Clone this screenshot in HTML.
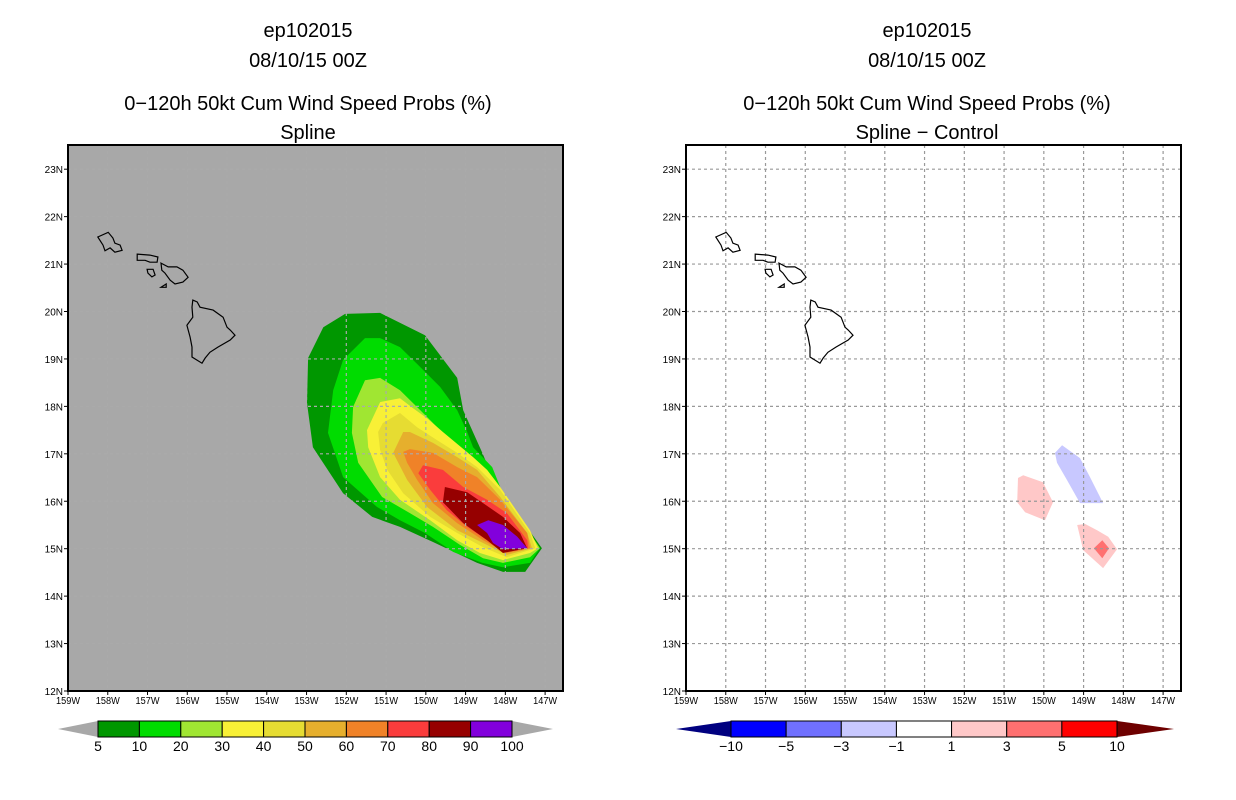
<!DOCTYPE html>
<html><head><meta charset="utf-8"><style>
html,body{margin:0;padding:0;background:#fff;}
svg{display:block;font-family:"Liberation Sans",sans-serif;}
</style></head><body>
<svg id="fig" width="1236" height="800" viewBox="0 0 1236 800" xmlns="http://www.w3.org/2000/svg">
<g font-size="20" text-anchor="middle" fill="#000">
<text x="308" y="37">ep102015</text>
<text x="308" y="67">08/10/15 00Z</text>
<text x="308" y="110">0−120h 50kt Cum Wind Speed Probs (%)</text>
<text x="308" y="139">Spline</text>
</g>
<g font-size="20" text-anchor="middle" fill="#000">
<text x="927" y="37">ep102015</text>
<text x="927" y="67">08/10/15 00Z</text>
<text x="927" y="110">0−120h 50kt Cum Wind Speed Probs (%)</text>
<text x="927" y="139">Spline − Control</text>
</g>
<g id="leftPanel"></g>
<g id="rightPanel"></g>
<g id="leftBar"></g>
<g id="rightBar"></g>
</svg>
<script>
const lonTicks = [-159,-158,-157,-156,-155,-154,-153,-152,-151,-150,-149,-148,-147];
const latTicks = [12,13,14,15,16,17,18,19,20,21,22,23];
const probLevels = [5,10,20,30,40,50,60,70,80,90];
const probColors = ["#009700","#00DC00","#A0E632","#F8F036","#E6DC32","#E6AF2D","#F08228","#FA3C3C","#960000","#8200DC"];
const probLabels = ["5","10","20","30","40","50","60","70","80","90","100"];
const diffColors = ["#0000FF","#7070FF","#C8C8FF","#FFFFFF","#FFC8C8","#FF7070","#FF0000"];
const diffLabels = ["−10","−5","−3","−1","1","3","5","10"];
// filled contour polygons (lon, lat)
const prob5 = [[-152.03,19.95],[-151.15,19.97],[-150.02,19.5],[-149.21,18.6],[-149.06,17.92],[-148.58,17.02],[-148.08,16.03],[-147.58,15.6],[-147.08,15.01],[-147.5,14.51],[-148.06,14.51],[-148.71,14.7],[-149.82,15.14],[-150.65,15.46],[-151.35,15.67],[-152.08,16.17],[-152.84,17.14],[-152.99,18.07],[-152.96,19.02],[-152.58,19.67]];
const prob10 = [[-151.53,19.44],[-151.15,19.44],[-150.65,19.25],[-150.19,18.87],[-149.64,18.41],[-149.21,17.92],[-148.96,17.46],[-148.81,17.14],[-148.33,16.72],[-148.13,16.3],[-148.01,15.96],[-147.38,15.33],[-147.13,15.01],[-147.38,14.7],[-148.06,14.61],[-148.58,14.7],[-149.31,14.93],[-150.02,15.33],[-150.65,15.6],[-151.23,15.88],[-152.08,16.51],[-152.46,17.44],[-152.33,18.34],[-152.08,18.98]];
const prob20 = [[-151.53,18.55],[-151.15,18.6],[-150.65,18.34],[-150.14,17.92],[-149.64,17.5],[-149.21,17.14],[-148.76,16.81],[-148.46,16.59],[-148.06,16.03],[-147.38,15.33],[-147.13,15.01],[-147.38,14.82],[-148.06,14.7],[-148.56,14.8],[-149.14,15.08],[-149.82,15.46],[-150.4,15.75],[-151.1,16.09],[-151.7,16.81],[-151.86,17.44],[-151.83,17.99]];
const prob30 = [[-151.15,18.09],[-150.65,18.17],[-150.32,17.96],[-149.97,17.75],[-149.57,17.46],[-148.81,16.93],[-148.46,16.66],[-148.13,16.3],[-147.38,15.39],[-147.18,15.01],[-147.38,14.91],[-148.06,14.76],[-148.64,14.91],[-149.21,15.18],[-149.89,15.6],[-150.65,16.03],[-151.15,16.51],[-151.45,17.14],[-151.48,17.5]];
const prob40 = [[-151.2,17.46],[-151.08,17.65],[-150.65,17.86],[-150.22,17.56],[-149.72,17.29],[-149.21,17.02],[-148.71,16.72],[-148.13,16.24],[-147.38,15.33],[-147.25,15.01],[-147.96,14.82],[-148.56,15.03],[-149.21,15.33],[-149.89,15.67],[-150.57,16.17],[-150.97,16.66],[-151.15,17.08]];
const prob50 = [[-150.82,17.02],[-150.57,17.46],[-150.4,17.46],[-149.82,17.23],[-149.21,16.93],[-148.71,16.66],[-148.13,16.09],[-147.45,15.33],[-147.33,15.01],[-147.96,14.87],[-148.56,15.12],[-149.21,15.39],[-149.97,15.88],[-150.47,16.45]];
const prob60 = [[-150.57,17.04],[-150.4,17.1],[-149.82,17.02],[-149.21,16.72],[-148.71,16.51],[-148.13,16.03],[-147.45,15.33],[-147.38,15.01],[-147.96,14.91],[-148.56,15.18],[-149.21,15.54],[-149.82,15.96],[-150.22,16.45],[-150.47,16.81]];
const prob70 = [[-150.19,16.59],[-150.07,16.76],[-149.57,16.66],[-149.06,16.3],[-148.46,16.03],[-147.96,15.75],[-147.45,15.18],[-147.43,15.01],[-147.96,14.93],[-148.46,15.18],[-148.96,15.46],[-149.47,15.81],[-149.89,16.24]];
const prob80 = [[-149.52,16.3],[-148.96,16.19],[-148.56,15.96],[-148.06,15.67],[-147.63,15.33],[-147.45,15.01],[-148.06,14.91],[-148.46,15.18],[-148.81,15.39],[-149.06,15.54],[-149.57,15.98]];
const prob90 = [[-148.71,15.5],[-148.43,15.6],[-148.06,15.5],[-147.7,15.25],[-147.45,15.01],[-148.06,14.99],[-148.31,15.12],[-148.46,15.33]];
const probPolys = [prob5,prob10,prob20,prob30,prob40,prob50,prob60,prob70,prob80,prob90];
const diffNeg3 = [[-149.72,17.02],[-149.54,17.18],[-149.09,16.91],[-148.84,16.51],[-148.51,15.96],[-149.09,15.96],[-149.42,16.45],[-149.67,16.81]];
const diffPos1a = [[-150.65,16.49],[-150.52,16.55],[-150.02,16.4],[-149.77,15.98],[-149.97,15.6],[-150.47,15.77],[-150.67,15.98]];
const diffPos1b = [[-149.16,15.5],[-148.96,15.52],[-148.66,15.39],[-148.38,15.25],[-148.16,14.99],[-148.51,14.59],[-149.01,14.97],[-149.09,15.25]];
const diffPos3 = [[-148.53,15.18],[-148.36,15.01],[-148.53,14.8],[-148.74,15.01]];
const diffPolys = [diffNeg3,diffPos1a,diffPos1b,diffPos3];
const diffPolyColors = ["#C8C8FF","#FFC8C8","#FFC8C8","#FF7070"];
// island coastlines (lon, lat)
const kauai = [[-158.25,21.57],[-157.99,21.67],[-157.87,21.55],[-157.82,21.44],[-157.69,21.4],[-157.64,21.29],[-157.82,21.25],[-157.94,21.34],[-158.07,21.28],[-158.12,21.4]];
const oahu = [[-157.26,21.21],[-156.94,21.19],[-156.74,21.15],[-156.76,21.04],[-156.94,21.04],[-157.06,21.08],[-157.26,21.08]];
const lanai = [[-157.01,20.89],[-156.86,20.89],[-156.81,20.77],[-156.89,20.73],[-156.99,20.81]];
const maui = [[-156.66,21.02],[-156.48,20.94],[-156.26,20.94],[-156.11,20.87],[-155.98,20.72],[-156.11,20.62],[-156.31,20.58],[-156.43,20.66],[-156.56,20.81],[-156.64,20.87]];
const kahoolawe = [[-156.66,20.51],[-156.53,20.58],[-156.53,20.51]];
const bigIsland = [[-155.86,20.24],[-155.75,20.2],[-155.68,20.09],[-155.35,20.03],[-155.1,19.88],[-155.0,19.67],[-154.92,19.61],[-154.8,19.5],[-154.92,19.4],[-155.23,19.25],[-155.43,19.14],[-155.55,19.02],[-155.63,18.91],[-155.88,19.04],[-155.88,19.25],[-155.93,19.46],[-156.01,19.71],[-155.86,19.88],[-155.88,20.09]];
const islands = [kauai,oahu,lanai,maui,kahoolawe,bigIsland];

const NS="http://www.w3.org/2000/svg";
function mk(tag,attrs,parent){const e=document.createElementNS(NS,tag);for(const k in attrs)e.setAttribute(k,attrs[k]);parent.appendChild(e);return e;}
const lonMin=-159, lonMax=-146.55, latMin=12, latMax=23.51;
function makePanel(g,x0,bg,polys,colors,gridAll){
  const x1=x0+495, y0=145, y1=691;
  const X=lon=>x0+(lon-lonMin)/(lonMax-lonMin)*(x1-x0);
  const Y=lat=>y1-(lat-latMin)/(latMax-latMin)*(y1-y0);
  const bgr=mk('rect',{x:x0,y:y0,width:x1-x0,height:y1-y0,fill:bg},g);
  
  
  polys.forEach((p,i)=>{
    const pl=mk('polygon',{points:p.map(q=>X(q[0]).toFixed(1)+','+Y(q[1]).toFixed(1)).join(' '),fill:colors[i]},g);
    
    
  });
  const gc = gridAll ? '#999' : '#aaa';
  lonTicks.forEach(l=>{ if(l>lonMin){const ln=mk('line',{x1:X(l),x2:X(l),y1:y0,y2:y1,stroke:gc,'stroke-width':1.2,'stroke-dasharray':'3,3'},g);
    
    }});
  latTicks.forEach(l=>{ if(l>latMin){const ln=mk('line',{x1:x0,x2:x1,y1:Y(l),y2:Y(l),stroke:gc,'stroke-width':1.2,'stroke-dasharray':'3,3'},g);
    
    }});
  islands.forEach(p=>{
    const pl=mk('polygon',{points:p.map(q=>X(q[0]).toFixed(1)+','+Y(q[1]).toFixed(1)).join(' '),fill:'none',stroke:'#000','stroke-width':1.2},g);
    
    
  });
  const fr=mk('rect',{x:x0,y:y0,width:x1-x0,height:y1-y0,fill:'none',stroke:'#000','stroke-width':2},g);
  
  
  lonTicks.forEach(l=>{
    mk('line',{x1:X(l),x2:X(l),y1:y1,y2:y1+4,stroke:'#000'},g);
    const t=mk('text',{x:X(l),y:y1+13,'font-size':10,'text-anchor':'middle',textLength:24,lengthAdjust:'spacingAndGlyphs'},g);
    t.textContent=Math.abs(l)+'W';
    
    
  });
  latTicks.forEach(l=>{
    mk('line',{x1:x0-4,x2:x0,y1:Y(l),y2:Y(l),stroke:'#000'},g);
    const t=mk('text',{x:x0-5,y:Y(l)+4,'font-size':10,'text-anchor':'end'},g);
    t.textContent=l+'N';
    
    
  });
}
makePanel(document.getElementById('leftPanel'),68,'#A8A8A8',probPolys,probColors,false);
makePanel(document.getElementById('rightPanel'),686,'#FFFFFF',diffPolys,diffPolyColors,true);

function makeBar(g,tipL,bx0,bx1,tipR,colors,labels,lc,rc){
  const y0=721,y1=737,ym=729;
  const w=(bx1-bx0)/colors.length;
  const a=mk('polygon',{points:`${tipL},${ym} ${bx0},${y0} ${bx0},${y1}`,fill:lc},g);
  
  
  const b=mk('polygon',{points:`${tipR},${ym} ${bx1},${y0} ${bx1},${y1}`,fill:rc},g);
  
  
  colors.forEach((c,i)=>{
    const r=mk('rect',{x:bx0+i*w,y:y0,width:w,height:y1-y0,fill:c,stroke:'#000','stroke-width':1},g);
    
    
  });
  labels.forEach((s,i)=>{
    const t=mk('text',{x:bx0+i*w,y:751,'font-size':14,'text-anchor':'middle'},g);
    t.textContent=s;
    
    
  });
}
makeBar(document.getElementById('leftBar'),58,98,512,553,probColors,probLabels,'#A8A8A8','#A8A8A8');
makeBar(document.getElementById('rightBar'),676,731,1117,1174,diffColors,diffLabels,'#000080','#6E0000');
</script>
</body></html>
